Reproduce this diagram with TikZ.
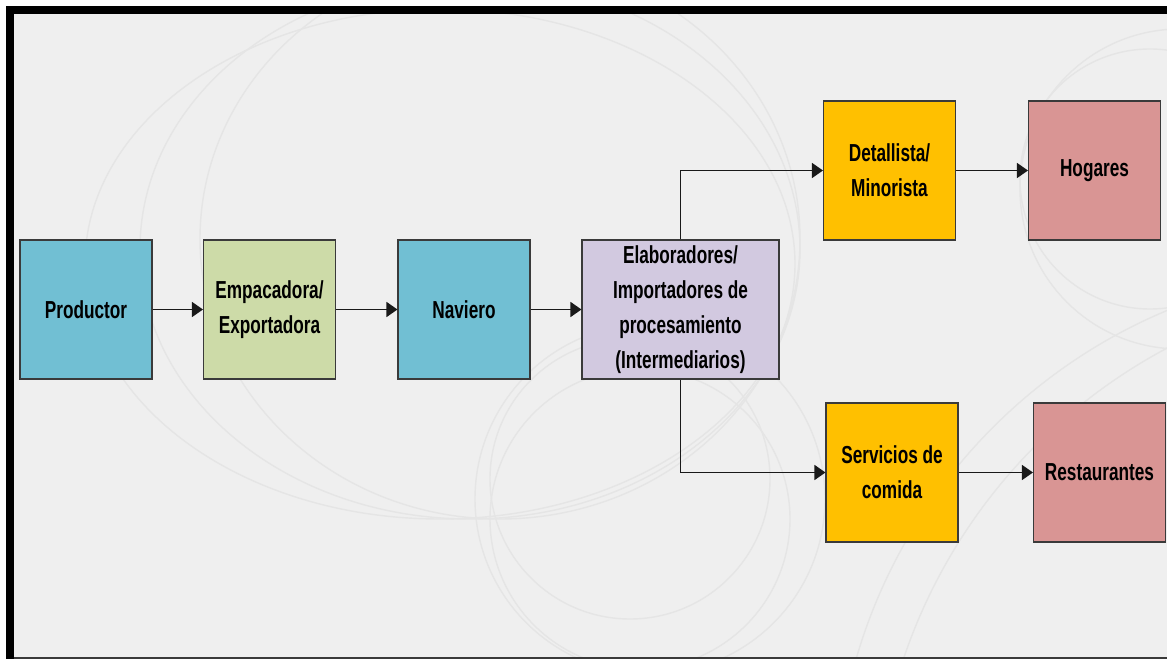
\documentclass[tikz,border=0pt]{standalone}
\usepackage{fontspec}
\newfontfamily\cajafont[FakeStretch=0.70]{Liberation Sans}
\usetikzlibrary{arrows.meta}
\definecolor{fondo}{HTML}{EFEFEF}
\definecolor{aro}{HTML}{E5E5E5}
\definecolor{azul}{HTML}{71BFD3}
\definecolor{verde}{HTML}{CDDBA8}
\definecolor{lila}{HTML}{D2C9E0}
\definecolor{amarillo}{HTML}{FFC000}
\definecolor{rosa}{HTML}{D99594}
\definecolor{borde}{HTML}{3A3A3A}
\begin{document}
\begin{tikzpicture}[
	caja/.style={draw=borde, line width=0.6pt, minimum width=2.64cm, minimum height=2.78cm,
		inner sep=0pt, align=center, font=\cajafont\bfseries\fontsize{14}{20}\selectfont},
	flecha/.style={draw=black!90, line width=0.8pt, -{Triangle[length=0.22cm,width=0.3cm]}},
	aros/.style={draw=aro, line width=0.8pt}]
	\useasboundingbox (0,0) rectangle (23.34,13.18);
	% fondo
	\fill[fondo] (0.12,0) rectangle (23.34,13.06);
	% aros del fondo
	\begin{scope}
		\clip (0.28,0.04) rectangle (23.34,12.88);
		\draw[aros] (8.8,7.9) ellipse (7.1 and 5.1);
		\draw[aros] (9.4,8.2) ellipse (6.6 and 5.4);
		\draw[aros] (10.0,8.4) ellipse (6.0 and 5.6);
		\draw[aros] (12.8,2.8) circle (3.0);
		\draw[aros] (13.0,3.2) circle (3.5);
		\draw[aros] (12.6,3.6) circle (2.8);
		\draw[aros] (23.0,9.6) circle (2.6);
		\draw[aros] (23.6,9.4) circle (3.2);
		\draw[aros] (27.5,-3.0) circle (10.8);
		\draw[aros] (28.5,-3.5) circle (11.0);
	\end{scope}
	% marco
	\fill[black] (0.12,12.9) rectangle (23.34,13.06);
	\fill[black] (0.12,0) rectangle (0.28,13.06);
	\draw[borde, line width=0.8pt] (0.28,0.02) -- (23.34,0.02);
	% cajas
	\node[caja, fill=azul] (productor) at (1.72,6.99) {Productor};
	\node[caja, fill=verde] (empacadora) at (5.39,6.99) {Empacadora/\\Exportadora};
	\node[caja, fill=azul] (naviero) at (9.28,6.99) {Naviero};
	\node[caja, fill=lila, minimum width=3.94cm] (elaboradores) at (13.61,6.99)
		{Elaboradores/\\Importadores de\\procesamiento\\(Intermediarios)};
	\node[caja, fill=amarillo] (detallista) at (17.79,9.77) {Detallista/\\Minorista};
	\node[caja, fill=rosa] (hogares) at (21.89,9.77) {Hogares};
	\node[caja, fill=amarillo] (servicios) at (17.84,3.73) {Servicios de\\comida};
	\node[caja, fill=rosa] (restaurantes) at (21.99,3.73) {Restaurantes};
	% flechas
	\draw[flecha] (productor) -- (empacadora);
	\draw[flecha] (empacadora) -- (naviero);
	\draw[flecha] (naviero) -- (elaboradores);
	\draw[flecha] (elaboradores.north) |- (detallista.west);
	\draw[flecha] (elaboradores.south) |- (servicios.west);
	\draw[flecha] (detallista) -- (hogares);
	\draw[flecha] (servicios) -- (restaurantes);
\end{tikzpicture}
\end{document}
